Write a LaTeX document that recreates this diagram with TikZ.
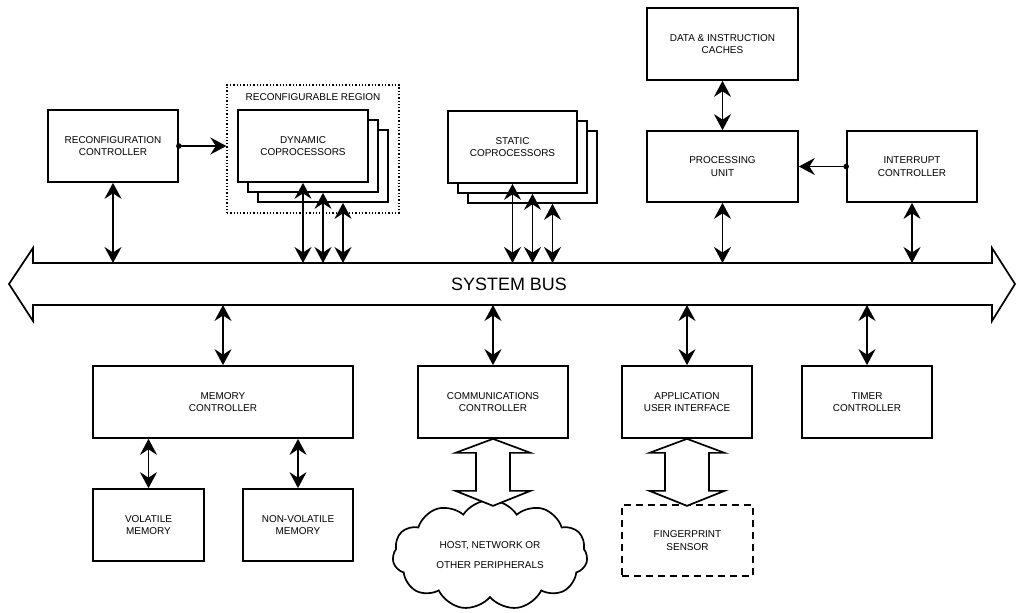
\documentclass[tikz,border=0pt]{standalone}
\usepackage{fontspec}
\setmainfont{Liberation Sans}
\usetikzlibrary{arrows.meta,calc,shapes.symbols}
\tikzset{>={Stealth[length=16bp,width=17bp,inset=5.5bp]},every node/.style={font=\fontsize{10}{12.5}\selectfont,align=center},
blk/.style={draw,line width=1.7bp,fill=white,minimum width=130bp,minimum height=72bp,inner sep=0pt},
link/.style={line width=1.8bp,<->},feed/.style={line width=1.8bp,->},hollow/.style={draw,line width=1.7bp,fill=white,line join=miter}}
\begin{document}
\begin{tikzpicture}[x=1bp,y=-1bp]
\useasboundingbox (0,0) rectangle (1016,613);
\draw[hollow] (33,263)--(992,263)--(992,248)--(1015,284)--(992,321)--(992,305)--(33,305)--(33,321)--(9,284)--(33,248)--cycle;
\coordinate (busT) at (0,263);\coordinate (busB) at (0,305);\node[font=\fontsize{18}{21}\selectfont] (bus) at (509,284){SYSTEM BUS};
\node[blk] (rcfg) at (113,146){RECONFIGURATION\\CONTROLLER};
\node[draw,dotted,line width=1.3bp,minimum width=172bp,minimum height=128bp] (region) at (313,149){};\node (reglbl) at (313,97){RECONFIGURABLE REGION};
\node[blk] (dyn3) at (323,166){};\node[blk] (dyn2) at (313,156){};\node[blk] (dyn1) at (303,146){DYNAMIC\\COPROCESSORS};
\node[blk,minimum width=129bp] (st3) at (532.5,167){};\node[blk,minimum width=129bp] (st2) at (522.5,157){};\node[blk,minimum width=129bp] (st1) at (512.5,147){STATIC\\COPROCESSORS};
\node[blk,minimum width=151bp] (cache) at (722.5,44){DATA \& INSTRUCTION\\CACHES};
\node[blk,minimum width=151bp,minimum height=71bp] (pu) at (722.5,166.5){PROCESSING\\UNIT};
\node[blk,minimum height=71bp] (irq) at (912,166.5){INTERRUPT\\CONTROLLER};
\node[blk,minimum width=260bp] (memc) at (223,402){MEMORY\\CONTROLLER};
\node[blk,minimum width=111bp] (vmem) at (148.5,525){VOLATILE\\MEMORY};\node[blk,minimum width=110bp] (nvmem) at (298,525){NON-VOLATILE\\MEMORY};
\node[blk,minimum width=150bp] (comm) at (493,402){COMMUNICATIONS\\CONTROLLER};
\node[blk] (app) at (687,402){APPLICATION\\USER INTERFACE};
\node[blk] (timer) at (867,402){TIMER\\CONTROLLER};
\node[blk,dash pattern=on 7bp off 5bp,minimum width=131bp,minimum height=71bp] (fp) at (687.5,540.5){FINGERPRINT\\SENSOR};
\node[cloud,draw,line width=1.7bp,fill=white,cloud puffs=11,cloud puff arc=115,aspect=1.8,minimum width=195bp,minimum height=110bp,inner sep=0pt] (host) at (490,555){HOST, NETWORK OR\\[7bp]OTHER PERIPHERALS};
\draw[hollow] (comm.south)--++(37.5,14)--++(-20.5,0)--++(0,38)--++(20.5,0)--++(-37.5,15)--++(-37.5,-15)--++(20.5,0)--++(0,-38)--++(-20.5,0)--cycle;
\draw[hollow] (app.south)--++(37.5,14)--++(-15.5,0)--++(0,38)--++(15.5,0)--++(-37.5,15)--++(-37.5,-15)--++(15.5,0)--++(0,-38)--++(-15.5,0)--cycle;
\draw[feed] (rcfg.east)--(region.west|-rcfg.east);\fill (rcfg.east) circle (2.8bp);
\draw[feed] (irq.west)--(pu.east|-irq.west);\fill (irq.west) circle (2.8bp);
\draw[link] (rcfg.south)--(rcfg.south|-busT);
\draw[link] (dyn1.south)--(dyn1.south|-busT);\draw[link] ([xshift=10bp]dyn2.south)--([xshift=10bp]dyn2.south|-busT);\draw[link] ([xshift=20bp]dyn3.south)--([xshift=20bp]dyn3.south|-busT);
\draw[link] (st1.south)--(st1.south|-busT);\draw[link] ([xshift=10bp]st2.south)--([xshift=10bp]st2.south|-busT);\draw[link] ([xshift=20bp]st3.south)--([xshift=20bp]st3.south|-busT);
\draw[link] (cache.south)--(pu.north);\draw[link] (pu.south)--(pu.south|-busT);\draw[link] (irq.south)--(irq.south|-busT);
\draw[link] (memc.north|-busB)--(memc.north);\draw[link] (comm.north|-busB)--(comm.north);\draw[link] (app.north|-busB)--(app.north);\draw[link] (timer.north|-busB)--(timer.north);
\draw[link] (vmem.north|-memc.south)--(vmem.north);\draw[link] (nvmem.north|-memc.south)--(nvmem.north);
\end{tikzpicture}
\end{document}
